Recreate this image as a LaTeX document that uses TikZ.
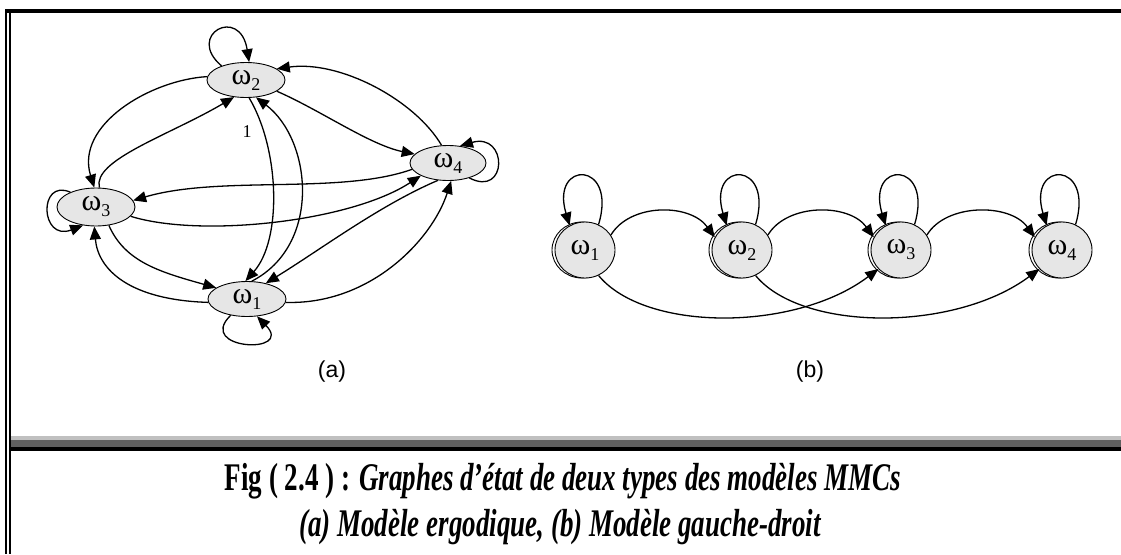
\documentclass[tikz,border=0pt]{standalone}
\usepackage{fontspec}
\setmainfont{Liberation Serif}
\newfontfamily\labelsans{Liberation Sans}
\usetikzlibrary{arrows.meta,shapes.geometric}

\definecolor{nodegray}{HTML}{E6E6E6}
\definecolor{bandlight}{HTML}{C0C0C0}
\definecolor{banddark}{HTML}{606060}

% state label: omega with a lowered index
\newcommand{\wlab}[1]{{\fontsize{30}{30}\selectfont ω\raisebox{-6pt}{\fontsize{18}{18}\selectfont #1}}}

\begin{document}
\begin{tikzpicture}[x=1pt,y=-1pt,
  edge/.style={draw=black, line width=1.3pt, -{Triangle[length=13pt,width=11pt]}},
  stateA/.style={ellipse, draw, line width=0.9pt, fill=nodegray,
    minimum width=78pt, minimum height=35pt, inner sep=0pt},
  stateB/.style={ellipse, draw, line width=0.9pt, fill=nodegray,
    minimum width=60pt, minimum height=56pt, inner sep=0pt},
  rimB/.style={ellipse, draw, line width=0.9pt, fill=white,
    minimum width=60pt, minimum height=56pt, inner sep=0pt},
  sublabel/.style={font=\labelsans\fontsize{23}{23}\selectfont},
  caption/.style={inner sep=0pt},
]
\useasboundingbox (0,0) rectangle (1121,554);

% frame: double rule on the left, heavy rule on top
\fill[black] (5,9) rectangle (6.5,554);
\fill[black] (8.5,9) rectangle (10.5,554);
\fill[black] (5,9) rectangle (1121,12.8);

% shaded band above the caption
\fill[bandlight] (10.5,436) rectangle (1121,440);
\fill[banddark] (10.5,440) rectangle (1121,447);
\fill[black] (10.5,447) rectangle (1121,451);

% ---------------- (a) ergodic model ----------------
\node[stateA] (A2) at (246,80) {\wlab{2}};
\node[stateA, minimum height=38pt] (A3) at (96,207) {\wlab{3}};
\node[stateA, minimum width=76pt] (A4) at (448,163) {\wlab{4}};
\node[stateA] (A1) at (247,299) {\wlab{1}};

% self loops
\draw[edge] (A2.150) .. controls (185,35) and (240,5) .. (A2.80);
\draw[edge] (A3.150) .. controls (38,178) and (40,242) .. (A3.-125);
\draw[edge] (A4.-35) .. controls (508,198) and (508,132) .. (A4.55);
\draw[edge] (A1.-135) .. controls (195,350) and (295,355) .. (A1.-60);

% transitions
\draw[edge] (A2.175) .. controls (150,80) and (75,125) .. (A3.95);
\draw[edge] (A3.80) .. controls (92,160) and (170,135) .. (A2.235);
\draw[edge] (A2.-20) .. controls (320,110) and (370,145) .. (A4.165);
\draw[edge] (A4.110) .. controls (415,100) and (340,60) .. (A2.20);
\draw[edge] (A2.-80) .. controls (280,150) and (282,240) .. (A1.95);
\draw[edge] (A1.75) .. controls (322,245) and (312,140) .. (A2.-60);
\draw[edge] (A4.190) .. controls (340,195) and (220,175) .. (A3.10);
\draw[edge] (A3.-15) .. controls (200,238) and (350,222) .. (A4.205);
\draw[edge] (A4.240) .. controls (380,205) and (320,250) .. (A1.40);
\draw[edge] (A1.-5) .. controls (370,305) and (432,240) .. (A4.-80);
\draw[edge] (A3.-55) .. controls (125,262) and (160,272) .. (A1.160);
\draw[edge] (A1.185) .. controls (130,300) and (98,270) .. (A3.-95);

\node[font=\fontsize{18}{18}\selectfont] (one) at (247,132) {1};
\node[sublabel] (capa) at (332,372) {(a)};

% ---------------- (b) left-right model ----------------
\node[rimB] (B1r) at (582,250) {};
\node[rimB] (B2r) at (739,250) {};
\node[rimB] (B3r) at (898,250) {};
\node[rimB] (B4r) at (1059,250) {};
\node[stateB] (B1) at (585,250) {\wlab{1}};
\node[stateB] (B2) at (742,250) {\wlab{2}};
\node[stateB] (B3) at (901,250) {\wlab{3}};
\node[stateB] (B4) at (1062,250) {\wlab{4}};

% self loops
\draw[edge] (B1.62) .. controls (618,160) and (550,160) .. (B1.122);
\draw[edge] (B2.62) .. controls (775,160) and (707,160) .. (B2.122);
\draw[edge] (B3.62) .. controls (934,160) and (866,160) .. (B3.122);
\draw[edge] (B4.62) .. controls (1095,160) and (1027,160) .. (B4.122);

% one-step transitions
\draw[edge] (B1.30) .. controls (630,203) and (690,203) .. (B2.155);
\draw[edge] (B2.30) .. controls (787,203) and (849,203) .. (B3.155);
\draw[edge] (B3.30) .. controls (946,203) and (1010,203) .. (B4.155);

% two-step transitions
\draw[edge] (B1.-62) .. controls (645,332) and (795,332) .. (B3.-140);
\draw[edge] (B2.-62) .. controls (802,332) and (955,332) .. (B4.-140);

\node[sublabel] (capb) at (810,372) {(b)};

% ---------------- caption ----------------
\node[caption] (cap1) at (563,481)
  {\scalebox{1}[1.45]{\fontsize{27}{27}\selectfont\bfseries Fig ( 2.4 ) : \itshape Graphes d’état de deux types des modèles MMCs}};
\node[caption] (cap2) at (560,527)
  {\scalebox{1}[1.45]{\fontsize{27}{27}\selectfont\bfseries\itshape (a) Modèle ergodique, (b) Modèle gauche-droit}};
\end{tikzpicture}
\end{document}
